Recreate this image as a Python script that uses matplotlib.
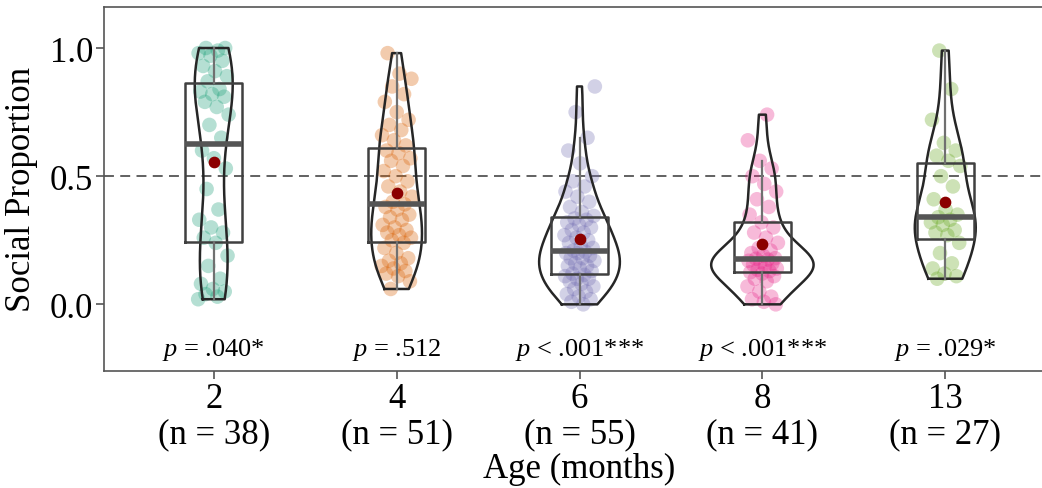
import matplotlib
matplotlib.use("Agg")
import matplotlib.pyplot as plt
import numpy as np

plt.rcParams['font.family'] = ['Liberation Serif', 'DejaVu Serif']
plt.rcParams['mathtext.fontset'] = 'custom'
plt.rcParams['mathtext.rm'] = 'Liberation Serif'
plt.rcParams['mathtext.it'] = 'Liberation Serif:italic'

# Datos
edades = ["2", "4", "6", "8", "13"]
n_sujetos = [38, 51, 55, 41, 27]
p_textos = ["$p$ = .040*", "$p$ = .512", "$p$ < .001***", "$p$ < .001***", "$p$ = .029*"]
colores = ["#1B9E77", "#D95F02", "#7570B3", "#E7298A", "#66A61E"]

m2 = [0.02, 0.03, 0.04, 0.05, 0.06, 0.08, 0.10, 0.15, 0.19, 0.24,
      0.26, 0.28, 0.30, 0.33, 0.37, 0.45, 0.53, 0.57, 0.60,
      0.65, 0.70, 0.74, 0.77, 0.79, 0.81, 0.82, 0.83, 0.84,
      0.87, 0.89, 0.91, 0.93, 0.95, 0.97, 0.98, 0.99, 1.00, 1.00]
m4 = [0.06, 0.09, 0.11, 0.12, 0.13, 0.14, 0.15, 0.16, 0.17, 0.18, 0.20, 0.22, 0.24,
      0.25, 0.26, 0.27, 0.28, 0.29, 0.30, 0.31, 0.33, 0.34, 0.35, 0.37, 0.38,
      0.39, 0.40, 0.42, 0.44, 0.46, 0.48, 0.50, 0.52, 0.54, 0.56, 0.57, 0.59, 0.60,
      0.62, 0.64, 0.66, 0.68, 0.70, 0.72, 0.75, 0.79, 0.82, 0.85, 0.88, 0.90, 0.98]
m6 = [0.00, 0.01, 0.02, 0.03, 0.04, 0.05, 0.06, 0.07, 0.08, 0.09, 0.10, 0.10, 0.11, 0.115,
      0.12, 0.13, 0.14, 0.15, 0.15, 0.16, 0.17, 0.18, 0.18, 0.19, 0.20, 0.20, 0.205,
      0.21, 0.22, 0.23, 0.24, 0.25, 0.26, 0.27, 0.28, 0.29, 0.30, 0.31, 0.32, 0.33, 0.335,
      0.345, 0.36, 0.38, 0.40, 0.42, 0.44, 0.46, 0.48, 0.50, 0.55, 0.60, 0.65, 0.75, 0.85]
m8 = [0.00, 0.01, 0.02, 0.03, 0.05, 0.07, 0.09, 0.10, 0.11, 0.12,
      0.125, 0.13, 0.135, 0.14, 0.15, 0.155, 0.16, 0.165, 0.17, 0.175,
      0.178, 0.18, 0.19, 0.20, 0.21, 0.22, 0.24, 0.26, 0.28, 0.30,
      0.32, 0.35, 0.38, 0.41, 0.44, 0.47, 0.50, 0.53, 0.56, 0.64, 0.74]
m13 = [0.10, 0.11, 0.12, 0.14, 0.16, 0.20, 0.24, 0.27, 0.28, 0.29, 0.31, 0.32, 0.33,
       0.34, 0.35, 0.37, 0.41, 0.46, 0.50, 0.54, 0.56, 0.58, 0.60, 0.63, 0.72, 0.84, 0.99]
grupos = [m2, m4, m6, m8, m13]


def kde_nrd0(x, grid):
    x = np.asarray(x)
    iqr = np.subtract(*np.percentile(x, [75, 25]))
    bw = 0.9 * min(x.std(ddof=1), iqr / 1.34) * len(x) ** -0.2
    z = (grid[:, None] - x[None, :]) / bw
    return np.exp(-0.5 * z ** 2).sum(axis=1) / (len(x) * bw * np.sqrt(2 * np.pi))


fig = plt.figure(figsize=(10.42, 4.89), dpi=100)
ax = fig.add_axes([104 / 1042, 117 / 489, 951 / 1042, 364 / 489])

pos = np.arange(len(grupos))

# Puntos con jitter (desplazamiento fijo, solo horizontal)
for i, g in enumerate(grupos):
    k = np.arange(len(g))
    dx = 0.085 * (2 * ((k * 0.618034 + 0.31 * i) % 1.0) - 1)
    ax.scatter(pos[i] + dx, g, s=110, color=colores[i], alpha=0.32,
               edgecolors='none', zorder=1)

# Violines (escala por area)
curvas = []
for g in grupos:
    yy = np.linspace(min(g), max(g), 512)
    curvas.append((yy, kde_nrd0(g, yy)))
dmax = max(d.max() for _, d in curvas)
for i, (yy, d) in enumerate(curvas):
    w = d / dmax * 0.28
    xs = np.concatenate([pos[i] - w, (pos[i] + w)[::-1], [pos[i] - w[0]]])
    ys = np.concatenate([yy, yy[::-1], [yy[0]]])
    ax.plot(xs, ys, color='#262626', lw=1.8, zorder=2)

# Cajas
ax.boxplot(grupos, positions=pos, widths=0.31, showfliers=False, showcaps=False,
           boxprops=dict(color='#404040', lw=1.8),
           whiskerprops=dict(color='#707070', lw=1.6),
           medianprops=dict(color='#555555', lw=4),
           zorder=3)

# Medias
medias = [np.mean(g) for g in grupos]
ax.scatter(pos, medias, s=55, color='#8B0000', zorder=4)

ax.axhline(0.5, color='#555555', lw=1.3, ls=(0, (5.5, 3.5)), zorder=0)

for i, t in enumerate(p_textos):
    ax.text(pos[i], -0.175, t, ha='center', va='center', fontsize=19)

ax.set_xlim(-0.6, 4.6)
ax.set_ylim(-0.26, 1.16)
ax.set_yticks([0.0, 0.5, 1.0])
ax.set_yticklabels(["0.0", "0.5", "1.0"])
ax.set_xticks(pos)
ax.set_xticklabels([f"{e}\n(n = {n})" for e, n in zip(edades, n_sujetos)],
                   linespacing=1.08)
ax.tick_params(labelsize=25, color='#555555', length=6, width=1.2, pad=2)
ax.set_ylabel("Social Proportion", fontsize=25, labelpad=8)
ax.set_xlabel("Age (months)", fontsize=25, labelpad=1)
for s in ax.spines.values():
    s.set_color('#555555')
    s.set_linewidth(1.2)

fig.savefig("out.png", dpi=100)
